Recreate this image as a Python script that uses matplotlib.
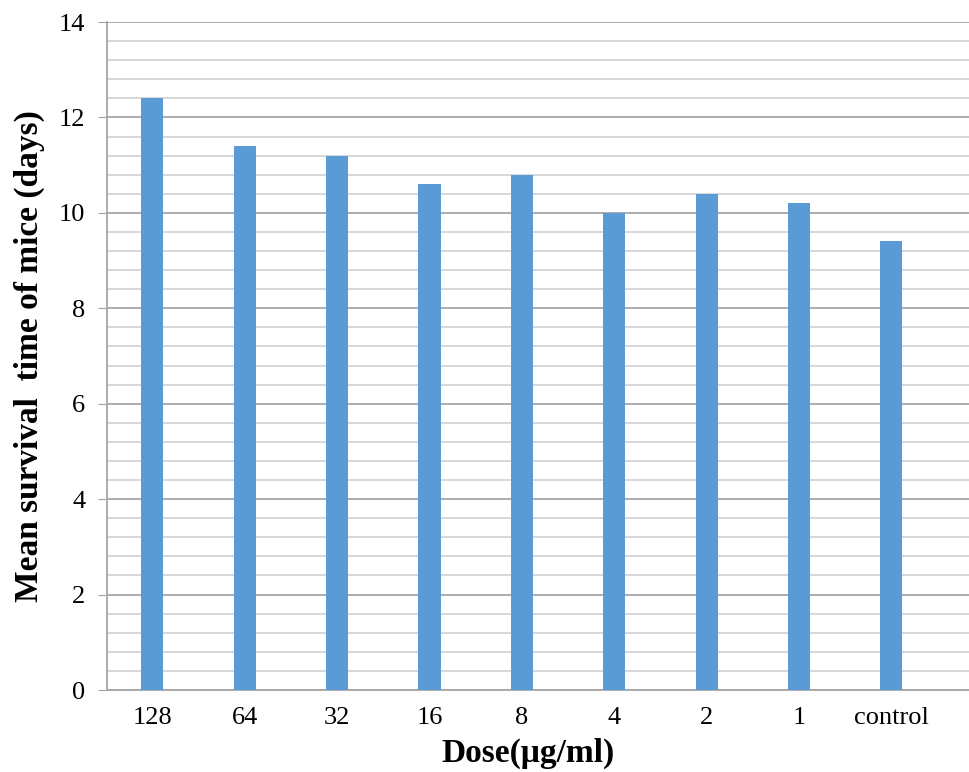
import matplotlib
matplotlib.use("Agg")
import matplotlib.pyplot as plt
import numpy as np
from matplotlib.ticker import MultipleLocator

doses = ['128', '64', '32', '16', '8', '4', '2', '1', 'control']
survival = [12.4, 11.4, 11.2, 10.6, 10.8, 10.0, 10.4, 10.2, 9.4]

plt.rcParams['font.family'] = ['Liberation Serif', 'DejaVu Serif']

fig = plt.figure(figsize=(9.69, 7.72), dpi=100)
ax = fig.add_axes([0.1104, 0.1062, 0.8896, 0.8653])

index = np.arange(len(doses))
ax.bar(index, survival, 0.24, color='#5B9BD5', zorder=3)

ax.set_ylim(0, 14)
ax.set_xlim(-0.49, 8.84)
ax.yaxis.set_major_locator(MultipleLocator(2))
ax.yaxis.set_minor_locator(MultipleLocator(0.4))
ax.grid(which='major', axis='y', color='#A6A6A6', linewidth=1.3, zorder=0)
ax.grid(which='minor', axis='y', color='#D4D4D4', linewidth=1.3, zorder=0)

ax.set_xticks(index)
ax.set_xticklabels(doses)
ax.tick_params(axis='x', length=0, labelsize=19, pad=12)
ax.tick_params(axis='y', which='major', length=6.5, color='#A6A6A6', labelsize=19, pad=9)
ax.tick_params(axis='y', which='minor', length=0)

for s in ['top', 'right']:
    ax.spines[s].set_visible(False)
for s in ['left', 'bottom']:
    ax.spines[s].set_color('#A6A6A6')
    ax.spines[s].set_linewidth(1.3)

ax.set_ylabel('Mean survival  time of mice (days)', fontsize=24, fontweight='bold', labelpad=10)
ax.set_xlabel('Dose(\u03bcg/ml)', fontsize=24, fontweight='bold')
ax.xaxis.set_label_coords(0.488, -0.072)

plt.savefig('out.png', dpi=100)
